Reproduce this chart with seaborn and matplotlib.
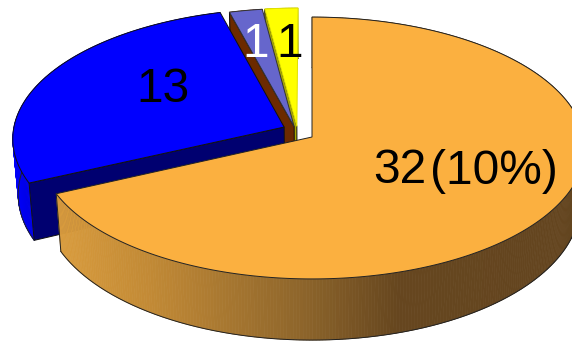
import numpy as np
import matplotlib
matplotlib.use("Agg")
import matplotlib.pyplot as plt
from matplotlib.patches import Polygon
import seaborn as sns

values = [32, 13, 1, 1]
top_colors = ["#FBB040", "#0000FF", "#6666CC", "#FFFF00"]
radial_colors = ["#8A6228", "#000070", "#6B2A00", "#A8A800"]
explode_u = [0.0, -0.103, -0.066, -0.056]
explode_v = [0.0, 0.077, 0.08, 0.082]
draw_order = [3, 2, 1, 0]

orange_wall_x = [58, 150, 300, 400, 572]
orange_wall_rgb = [(0.85, 0.61, 0.24), (0.76, 0.54, 0.21), (0.56, 0.40, 0.17), (0.40, 0.275, 0.12), (0.39, 0.27, 0.12)]
blue_wall_x = [12, 35]
blue_wall_rgb = [(0, 0, 0.98), (0, 0, 0.86)]

CX, CY, A, B, K = 312, 137, 272, 130, 0.084


def project(u, v):
    w = 1 + K * v
    return CX + A * u / w, CY - B * v / w


def lower(x, y):
    return CX + (x - CX) * 0.982, y + 50 + 0.04 * y


def wall_color(i, x):
    if i == 0:
        return tuple(np.interp(x, orange_wall_x, [c[k] for c in orange_wall_rgb]) for k in range(3))
    if i == 1:
        return tuple(np.interp(x, blue_wall_x, [c[k] for c in blue_wall_rgb]) for k in range(3))
    return radial_colors[i]


sns.set_theme(style="white")
plt.rcParams["font.family"] = ["Liberation Sans", "DejaVu Sans"]
fig, ax = plt.subplots(figsize=(5.72, 3.41), dpi=100)
fig.subplots_adjust(0, 0, 1, 1)
ax.set_xlim(0, 572)
ax.set_ylim(341, 0)
ax.axis("off")


def poly(xs, ys, fc, ec, lw, zorder):
    ax.add_patch(Polygon(np.column_stack([xs, ys]), closed=True, facecolor=fc,
                         edgecolor=ec, linewidth=lw, zorder=zorder))


total = sum(values)
ends = 90 - np.cumsum(values) / total * 360
starts = np.r_[90, ends[:-1]]
edge_cols = ["#222222", "#111111", "#333333", "#E0E000"]

z = 1
for i in draw_order:
    th = np.radians(np.linspace(starts[i], ends[i], max(int(values[i] * 12), 12)))
    u0, v0 = explode_u[i], explode_v[i]
    px, py = project(u0, v0)
    rx, ry = project(np.cos(th) + u0, np.sin(th) + v0)
    bx, by = lower(rx, ry)
    pbx, pby = lower(px, py)
    # rim strips with a gradient across the image
    for j in range(len(th) - 1):
        c = wall_color(i, rx[j])
        poly([rx[j], rx[j + 1], bx[j + 1], bx[j]], [ry[j], ry[j + 1], by[j + 1], by[j]], c, c, 0.5, z)
    z += 1
    ax.plot(bx, by, color="#222222", lw=0.7, zorder=z)
    z += 1
    if i == 0:
        ax.plot([rx[-1], bx[-1]], [ry[-1], by[-1]], color="#222222", lw=0.7, zorder=z)
    else:
        # flat cut side facing the viewer, at the clockwise start of the slice
        poly([px, rx[0], bx[0], pbx], [py, ry[0], by[0], pby], radial_colors[i], "#111111", 0.7, z)
    z += 1
    poly(np.r_[px, rx], np.r_[py, ry], top_colors[i], edge_cols[i], 0.7, z)
    z += 1

text_kw = dict(fontsize=34.5, ha="left", va="baseline", family="Liberation Sans", zorder=z)
ax.text(373, 183, str(values[0]), color="black", **text_kw)
ax.text(430, 184, "(10%)", color="black", **text_kw)
ax.text(136, 102, str(values[1]), color="black", **text_kw)
ax.text(242, 57, str(values[2]), color="white", **text_kw)
ax.text(276, 57, str(values[3]), color="black", **text_kw)

fig.savefig("out.png", dpi=100, facecolor="white")
